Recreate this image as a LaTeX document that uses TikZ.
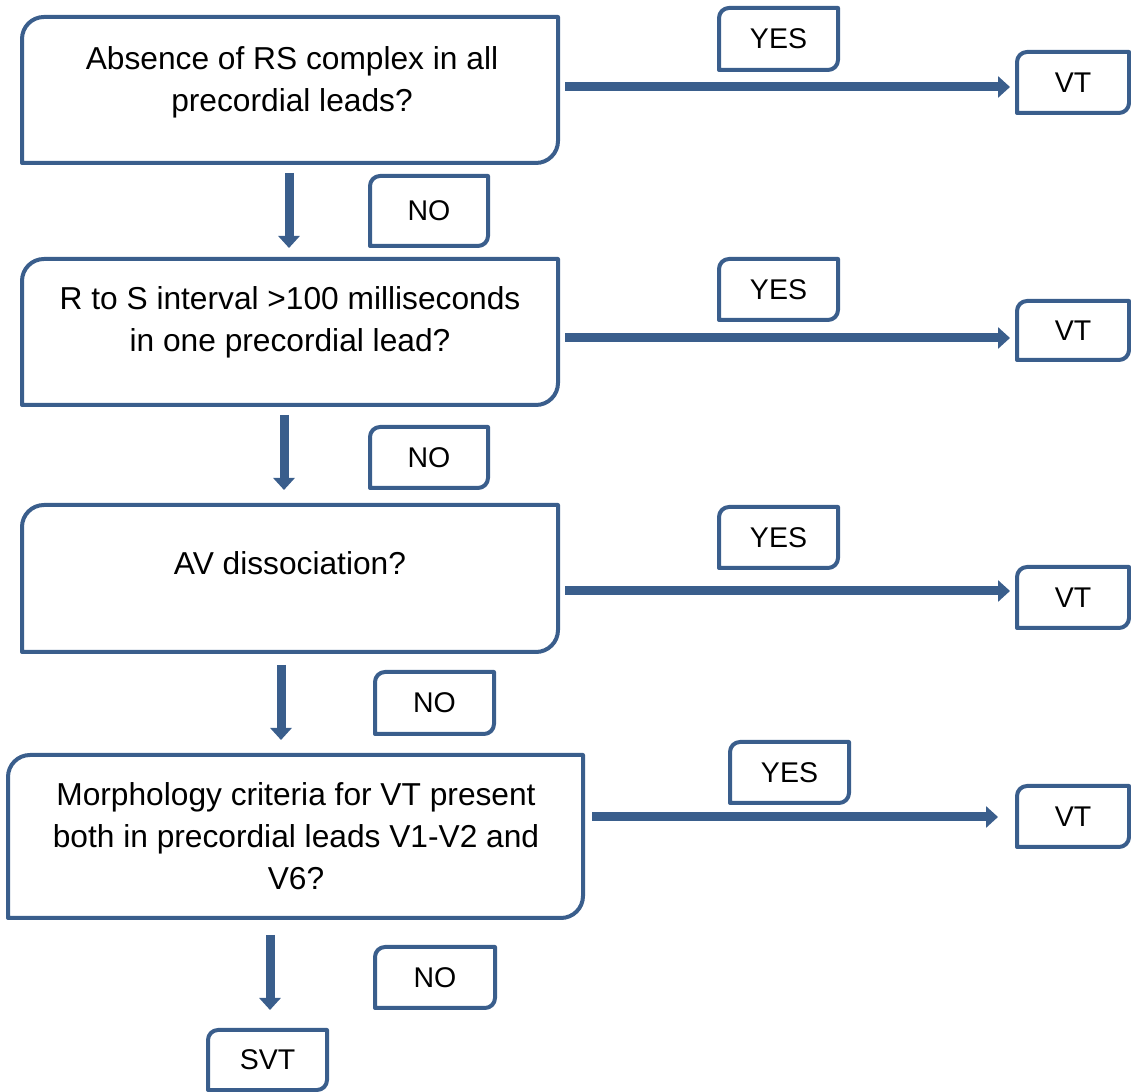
\documentclass[tikz,border=0pt]{standalone}
\usepackage{fontspec}
\setmainfont{Liberation Sans}
\usetikzlibrary{arrows.meta}
\definecolor{bl}{RGB}{58,94,140}
\tikzset{
  frame/.style={draw=bl, line width=4pt, line join=round},
  boxarea/.style={inner sep=0pt, outer sep=0pt},
  txt/.style={align=center, inner sep=0pt, font=\fontsize{31.7}{42}\selectfont},
  lab/.style={boxarea, font=\fontsize{28.5}{34}\selectfont},
  flow/.style={draw=bl, line width=9pt, -{Triangle[width=21pt,length=12pt]}},
}
\begin{document}
\begin{tikzpicture}[x=1pt,y=1pt]
\useasboundingbox (0,0) rectangle (1131,1091);
% big decision boxes
\node[boxarea, minimum width=536pt, minimum height=146pt] (b1) at (290,1001) {};
\node[boxarea, minimum width=536pt, minimum height=146pt] (b2) at (290,759) {};
\node[boxarea, minimum width=536pt, minimum height=147pt] (b3) at (290,512.5) {};
\node[boxarea, minimum width=575pt, minimum height=163pt] (b4) at (295.5,254.5) {};
% texts
\node[txt] (t1) at (292,1009) {Absence of RS complex in all\\precordial leads?};
\node[txt] (t2) at (290,769) {R to S interval >100 milliseconds\\in one precordial lead?};
\node[txt] (t3) at (290,528) {AV dissociation?};
\node[txt] (t4) at (296,255) {Morphology criteria for VT present\\both in precordial leads V1-V2 and\\V6?};
% NO labels
\node[lab, minimum width=118pt, minimum height=70pt] (n1) at (429,880) {NO};
\node[lab, minimum width=118pt, minimum height=61pt] (n2) at (429,633.5) {NO};
\node[lab, minimum width=119pt, minimum height=62pt] (n3) at (434.5,388) {NO};
\node[lab, minimum width=120pt, minimum height=61pt] (n4) at (435,113.5) {NO};
% YES labels
\node[lab, minimum width=119pt, minimum height=62pt] (y1) at (778.5,1052) {YES};
\node[lab, minimum width=119pt, minimum height=61pt] (y2) at (778.5,801.5) {YES};
\node[lab, minimum width=119pt, minimum height=61pt] (y3) at (778.5,553.5) {YES};
\node[lab, minimum width=119pt, minimum height=61pt] (y4) at (789.5,318.5) {YES};
% outcomes
\node[lab, minimum width=112pt, minimum height=61pt] (v1) at (1073,1008.5) {VT};
\node[lab, minimum width=112pt, minimum height=59pt] (v2) at (1073,760.5) {VT};
\node[lab, minimum width=112pt, minimum height=61pt] (v3) at (1073,493.5) {VT};
\node[lab, minimum width=112pt, minimum height=61pt] (v4) at (1073,274.5) {VT};
\node[lab, minimum width=119pt, minimum height=60pt] (s1) at (267.5,31) {SVT};
% frames: rounded top-left and bottom-right corners
\foreach \n/\r in {b1/22pt,b2/22pt,b3/22pt,b4/22pt,n1/10pt,n2/10pt,n3/10pt,n4/10pt,y1/10pt,y2/10pt,y3/10pt,y4/10pt,v1/10pt,v2/10pt,v3/10pt,v4/10pt,s1/10pt}
  \draw[frame] (\n.south west) -- ([yshift=-\r]\n.north west)
     arc[start angle=180,end angle=90,radius=\r] -- (\n.north east)
     -- ([yshift=\r]\n.south east) arc[start angle=0,end angle=-90,radius=\r] -- cycle;
% horizontal YES arrows
\draw[flow] ([shift={(7,3)}]b1.east) -- ([shift={(-7,-4.5)}]v1.west);
\draw[flow] ([shift={(7,-6)}]b2.east) -- ([shift={(-7,-7.5)}]v2.west);
\draw[flow] ([shift={(7,-12.5)}]b3.east) -- ([shift={(-7,6.5)}]v3.west);
\draw[flow] ([shift={(9,19.5)}]b4.east) -- ([shift={(-19,-0.5)}]v4.west);
% vertical NO arrows
\draw[flow] ([shift={(-1,-10)}]b1.south) -- ([shift={(-1,11)}]b2.north);
\draw[flow] ([shift={(-6,-10)}]b2.south) -- ([shift={(-6,15)}]b3.north);
\draw[flow] ([shift={(-9,-13)}]b3.south) -- ([shift={(-14.5,15)}]b4.north);
\draw[flow] ([shift={(-25.5,-17)}]b4.south) -- ([shift={(2.5,20)}]s1.north);
\end{tikzpicture}
\end{document}
